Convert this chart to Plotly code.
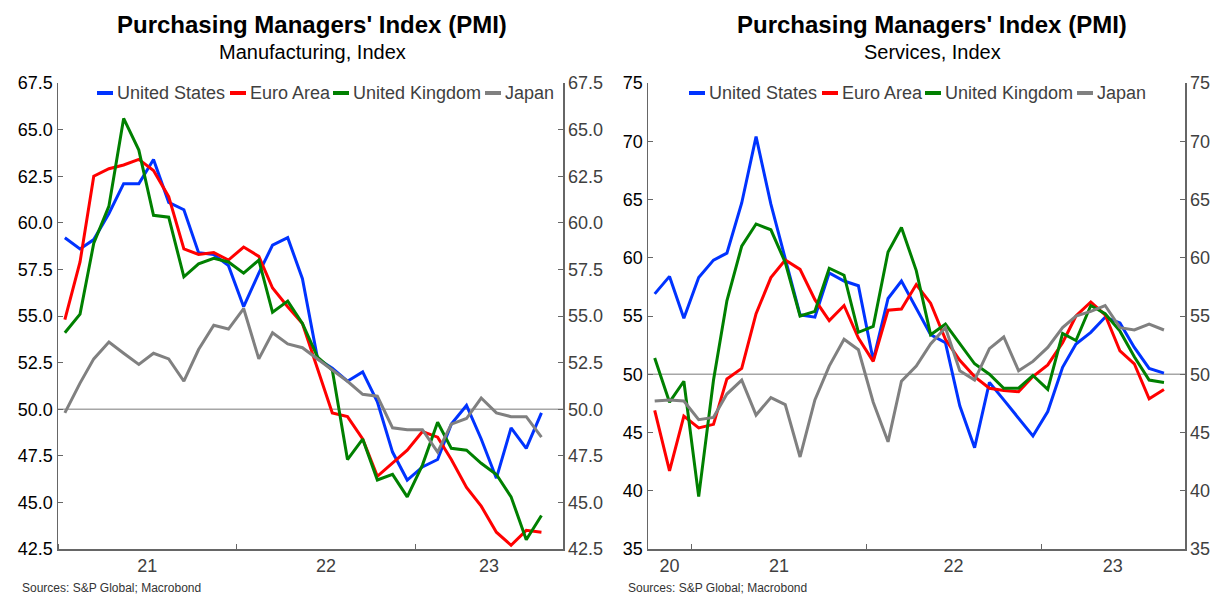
import plotly.graph_objects as go
import pandas as pd

# ---------------- data ----------------
mfg_months = pd.date_range("2021-01-01", "2023-09-01", freq="MS") + pd.Timedelta(days=14)
mfg_us = [59.2, 58.6, 59.1, 60.5, 62.1, 62.1, 63.4, 61.1, 60.7, 58.4, 58.3, 57.7,
          55.5, 57.3, 58.8, 59.2, 57.0, 52.7, 52.2, 51.5, 52.0, 50.4, 47.7, 46.2,
          46.9, 47.3, 49.2, 50.2, 48.4, 46.3, 49.0, 47.9, 49.8]
mfg_ea = [54.8, 57.9, 62.5, 62.9, 63.1, 63.4, 62.8, 61.4, 58.6, 58.3, 58.4, 58.0,
          58.7, 58.2, 56.5, 55.5, 54.6, 52.1, 49.8, 49.6, 48.4, 46.4, 47.1, 47.8,
          48.8, 48.5, 47.3, 45.8, 44.8, 43.4, 42.7, 43.5, 43.4]
mfg_uk = [54.1, 55.1, 58.9, 60.9, 65.6, 63.9, 60.4, 60.3, 57.1, 57.8, 58.1, 57.9,
          57.3, 58.0, 55.2, 55.8, 54.6, 52.8, 52.1, 47.3, 48.4, 46.2, 46.5, 45.3,
          47.0, 49.3, 47.9, 47.8, 47.1, 46.5, 45.3, 43.0, 44.3]
mfg_jp = [49.8, 51.4, 52.7, 53.6, 53.0, 52.4, 53.0, 52.7, 51.5, 53.2, 54.5, 54.3,
          55.4, 52.7, 54.1, 53.5, 53.3, 52.7, 52.1, 51.5, 50.8, 50.7, 49.0, 48.9,
          48.9, 47.7, 49.2, 49.5, 50.6, 49.8, 49.6, 49.6, 48.5]

srv_months = pd.date_range("2020-10-01", "2023-09-01", freq="MS") + pd.Timedelta(days=14)
srv_us = [56.9, 58.4, 54.8, 58.3, 59.8, 60.4, 64.7, 70.4, 64.6, 59.9, 55.1, 54.9,
          58.7, 58.0, 57.6, 51.2, 56.5, 58.0, 55.6, 53.4, 52.7, 47.3, 43.7, 49.3,
          47.8, 46.2, 44.7, 46.8, 50.6, 52.6, 53.6, 54.9, 54.4, 52.3, 50.5, 50.1]
srv_ea = [46.9, 41.7, 46.4, 45.4, 45.7, 49.6, 50.5, 55.2, 58.3, 59.8, 59.0, 56.4,
          54.6, 55.9, 53.1, 51.1, 55.5, 55.6, 57.7, 56.1, 53.0, 51.2, 49.8, 48.8,
          48.6, 48.5, 49.8, 50.8, 52.7, 55.0, 56.2, 55.1, 52.0, 50.9, 47.9, 48.7]
srv_uk = [51.4, 47.6, 49.4, 39.5, 49.5, 56.3, 61.0, 62.9, 62.4, 59.6, 55.0, 55.4,
          59.1, 58.5, 53.6, 54.1, 60.5, 62.6, 58.9, 53.4, 54.3, 52.6, 50.9, 50.0,
          48.8, 48.8, 49.9, 48.7, 53.5, 52.9, 55.9, 55.2, 53.7, 51.5, 49.5, 49.3]
srv_jp = [47.7, 47.8, 47.7, 46.1, 46.3, 48.3, 49.5, 46.5, 48.0, 47.4, 42.9, 47.8,
          50.7, 53.0, 52.1, 47.6, 44.2, 49.4, 50.7, 52.6, 54.0, 50.3, 49.5, 52.2,
          53.2, 50.3, 51.1, 52.3, 54.0, 55.0, 55.4, 55.9, 54.0, 53.8, 54.3, 53.8]

series_names = ["United States", "Euro Area", "United Kingdom", "Japan"]
series_colors = ["#0033ff", "#ff0000", "#008000", "#808080"]

mfg_ticks = [42.5, 45.0, 47.5, 50.0, 52.5, 55.0, 57.5, 60.0, 62.5, 65.0, 67.5]
srv_ticks = [35, 40, 45, 50, 55, 60, 65, 70, 75]

mfg_xlabels = ["21", "22", "23"]
mfg_xlabel_pos = ["2021-07-02", "2022-07-02", "2023-05-31"]
srv_xlabels = ["20", "21", "22", "23"]
srv_xlabel_pos = ["2020-11-15", "2021-07-02", "2022-07-02", "2023-05-31"]

# ---------------- geometry helpers (pixel -> paper) ----------------
W, H = 1215, 595


def fx(X):
    return X / W


def fy(Y):
    return 1 - Y / H


FONT = "Liberation Sans, Arial"

fig = go.Figure()

mfg_data = [mfg_us, mfg_ea, mfg_uk, mfg_jp]
srv_data = [srv_us, srv_ea, srv_uk, srv_jp]

for i, (name, col, ys) in enumerate(zip(series_names, series_colors, mfg_data)):
    fig.add_trace(go.Scatter(x=mfg_months, y=ys, mode="lines", name=name,
                             line=dict(color=col, width=3), xaxis="x",
                             yaxis="y3" if i == 3 else "y", showlegend=False))
for i, (name, col, ys) in enumerate(zip(series_names, series_colors, srv_data)):
    fig.add_trace(go.Scatter(x=srv_months, y=ys, mode="lines", name=name,
                             line=dict(color=col, width=3), xaxis="x2",
                             yaxis="y4" if i == 3 else "y2", showlegend=False))

axis_line = "#666666"
tickfont_dark = dict(family=FONT, size=18, color="#000000")
tickfont_grey = dict(family=FONT, size=18, color="#404040")

xcommon = dict(showgrid=False, zeroline=False, showline=True, linecolor=axis_line,
               linewidth=1.5, ticks="", tickmode="array", automargin=False,
               tickfont=tickfont_grey,
               minor=dict(ticks="inside", ticklen=5, tickcolor=axis_line, tickwidth=1,
                          dtick="M12", tick0="2020-01-01", showgrid=False))

ycommon = dict(showgrid=False, zeroline=False, showline=True, linecolor=axis_line,
               linewidth=1.5, ticks="inside", ticklen=5, tickcolor=axis_line,
               tickmode="array", automargin=False)

d1 = [fx(58), fx(563)]
d2 = [fx(648), fx(1185)]
dy = [fy(549), fy(83)]

xr1 = ["2021-01-01", "2023-10-29"]
xr2 = ["2020-10-01", "2023-10-29"]

fig.update_layout(
    width=W, height=H,
    margin=dict(l=0, r=0, t=0, b=0, autoexpand=False),
    paper_bgcolor="white", plot_bgcolor="white",
    font=dict(family=FONT, color="#404040"),
    showlegend=False,
    hovermode=False,
    xaxis=dict(domain=d1, range=xr1, anchor="y",
               tickvals=mfg_xlabel_pos, ticktext=mfg_xlabels, **xcommon),
    yaxis=dict(domain=dy, range=[42.5, 67.5], anchor="x",
               tickvals=mfg_ticks, ticktext=[f"{v:.1f}" for v in mfg_ticks],
               tickfont=tickfont_dark, **ycommon),
    yaxis3=dict(domain=dy, range=[42.5, 67.5], anchor="x", overlaying="y", side="right",
                tickvals=mfg_ticks, ticktext=[f"{v:.1f}" for v in mfg_ticks],
                tickfont=tickfont_grey, **ycommon),
    xaxis2=dict(domain=d2, range=xr2, anchor="y2",
                tickvals=srv_xlabel_pos, ticktext=srv_xlabels, **xcommon),
    yaxis2=dict(domain=dy, range=[35, 75], anchor="x2",
                tickvals=srv_ticks, ticktext=[str(v) for v in srv_ticks],
                tickfont=tickfont_dark, **ycommon),
    yaxis4=dict(domain=dy, range=[35, 75], anchor="x2", overlaying="y2", side="right",
                tickvals=srv_ticks, ticktext=[str(v) for v in srv_ticks],
                tickfont=tickfont_grey, **ycommon),
)

# reference line at 50
for xref, yref in [("x", "y"), ("x2", "y2")]:
    fig.add_shape(type="line", xref=f"{xref} domain", yref=yref, x0=0, x1=1, y0=50, y1=50,
                  line=dict(color="#a6a6a6", width=1.5), layer="below")

# compact legends (key line + label), positions
legend_left_x = [97, 230, 333, 485]
legend_right_x = [689, 822, 925, 1077]
LEG_Y = 93
for starts in (legend_left_x, legend_right_x):
    for x0, name, col in zip(starts, series_names, series_colors):
        fig.add_shape(type="line", xref="paper", yref="paper",
                      x0=fx(x0), x1=fx(x0 + 16), y0=fy(LEG_Y), y1=fy(LEG_Y),
                      line=dict(color=col, width=4))
        fig.add_annotation(text=name, x=fx(x0 + 18), y=fy(LEG_Y), xref="paper",
                           yref="paper", showarrow=False, xanchor="left",
                           yanchor="middle",
                           font=dict(family=FONT, size=18, color="#404040"))

# titles
title_font = dict(family=FONT, size=24, color="#000000")
sub_font = dict(family=FONT, size=20, color="#000000")
for cx, sub in [(312, "Manufacturing, Index"), (932, "Services, Index")]:
    fig.add_annotation(text="<b>Purchasing Managers' Index (PMI)</b>", x=fx(cx),
                       y=fy(25), xref="paper", yref="paper", showarrow=False,
                       font=title_font, xanchor="center", yanchor="middle")
    fig.add_annotation(text=sub, x=fx(cx), y=fy(52), xref="paper", yref="paper",
                       showarrow=False, font=sub_font, xanchor="center", yanchor="middle")

for sx in [20, 626]:
    fig.add_annotation(text="Sources: S&P Global; Macrobond", x=fx(sx), y=fy(588),
                       xref="paper", yref="paper", showarrow=False, xanchor="left",
                       yanchor="middle",
                       font=dict(family=FONT, size=12, color="#333333"))

# remove the browser's default 8px body margin so the figure sits at the page origin
fig.write_html("out.html",
               config={"displayModeBar": False, "staticPlot": True},
               post_script="document.body.style.margin='0';document.body.style.padding='0';")
